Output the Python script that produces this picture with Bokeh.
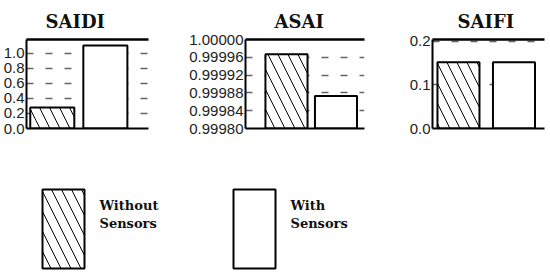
from bokeh.plotting import figure
from bokeh.layouts import column, row
from bokeh.models import Range1d, FixedTicker, PrintfTickFormatter, LinearAxis, ColumnDataSource
from bokeh.embed import file_html
from bokeh.resources import INLINE
from bokeh.core.properties import value

# ---- data ----
categories = ["Without Sensors", "With Sensors"]
hatches = ["left_diagonal_line", " "]
titles = ["SAIDI", "ASAI", "SAIFI"]
saidi = [0.28, 1.10]
asai = [0.999967, 0.999873]
saifi = [0.152, 0.152]
saidi_ticks = [0.0, 0.2, 0.4, 0.6, 0.8, 1.0]
asai_ticks = [0.99980, 0.99984, 0.99988, 0.99992, 0.99996, 1.00000]
saifi_ticks = [0.0, 0.1, 0.2]

LABEL_FONT = "Liberation Sans"
TITLE_FONT = "DejaVu Serif"
HATCH_SCALE = 20


def panel(title, vals, ticks, fmt, ylo, yhi, xlo, xhi, barw, width, bl, br, toff):
    p = figure(width=width, height=138, output_backend="svg", toolbar_location=None,
               x_range=Range1d(xlo, xhi), y_range=Range1d(ylo, yhi),
               min_border_left=bl, min_border_right=br, min_border_top=38, min_border_bottom=10)
    p.outline_line_color = None
    p.background_fill_color = "white"
    p.border_fill_color = "white"
    p.title.text = title
    p.title.text_font = TITLE_FONT
    p.title.text_font_style = "bold"
    p.title.text_font_size = "18px"
    p.title.text_color = "#111111"
    p.title.align = "left"
    p.title.offset = toff
    p.title.standoff = 16
    xs = list(range(1, len(vals) + 1))
    src = ColumnDataSource(dict(x=xs, top=vals, hatch=hatches[:len(vals)], cat=categories))
    p.vbar(x="x", top="top", bottom=ylo, width=barw, source=src, fill_color="white",
           line_color="black", line_width=2, hatch_pattern="hatch", hatch_color="black",
           hatch_weight=1, hatch_scale=HATCH_SCALE)
    ax = p.yaxis[0]
    ax.ticker = FixedTicker(ticks=ticks)
    ax.formatter = PrintfTickFormatter(format=fmt)
    ax.major_tick_in = 0
    ax.major_tick_out = 0
    ax.minor_tick_in = 0
    ax.minor_tick_out = 0
    ax.axis_line_width = 2
    ax.axis_line_color = "black"
    ax.major_label_text_font = LABEL_FONT
    ax.major_label_text_font_size = "15px"
    ax.major_label_text_color = "#222222"
    ax.major_label_standoff = 2
    p.ygrid.grid_line_dash = "7 12"
    p.ygrid.grid_line_color = "#666666"
    p.ygrid.grid_line_width = 1.5
    p.xgrid.visible = False
    bx = p.xaxis[0]
    top = LinearAxis()
    p.add_layout(top, "above")
    for a, w in ((bx, 2), (top, 2.5)):
        a.ticker = FixedTicker(ticks=[])
        a.major_tick_in = 0
        a.major_tick_out = 0
        a.minor_tick_in = 0
        a.minor_tick_out = 0
        a.major_label_standoff = 0
        a.major_label_text_font_size = "0px"
        a.axis_line_width = w
        a.axis_line_color = "black"
    return p


p1 = panel(titles[0], saidi, saidi_ticks, "%.1f", 0.0, 1.18, 0.514, 2.813, 0.83, 175, 25, 27, 19)
p2 = panel(titles[1], asai, asai_ticks, "%.5f", 0.9998, 1.0, 0.172, 2.576, 0.85, 225, 70, 36, 29)
p3 = panel(titles[2], saifi, saifi_ticks, "%.1f", 0.0, 0.2045, 0.532, 2.55, 0.757, 150, 32, 6, 25)

# ---- legend ----
leg = figure(width=550, height=136, output_backend="svg", toolbar_location=None,
             x_range=Range1d(0, 550), y_range=Range1d(274, 138),
             x_axis_location=None, y_axis_location=None, min_border=0)
leg.outline_line_color = None
leg.grid.visible = False
sw_left = [42, 233]
for i, cat in enumerate(categories):
    l = sw_left[i]
    leg.quad(left=l, right=l + 42, top=189, bottom=268, fill_color="white", line_color="black",
             line_width=2, hatch_pattern=hatches[i], hatch_color="black", hatch_weight=1,
             hatch_scale=HATCH_SCALE)
    words = cat.split()
    leg.text(x=[l + 57] * len(words), y=[205 + 18 * k for k in range(len(words))], text=words,
             text_font=value(TITLE_FONT), text_font_style="bold", text_font_size="13px",
             text_color="#111111", text_baseline="alphabetic", text_align="left")

layout = column(row(p1, p2, p3), leg)
open("out.html", "w").write(file_html(layout, INLINE))
